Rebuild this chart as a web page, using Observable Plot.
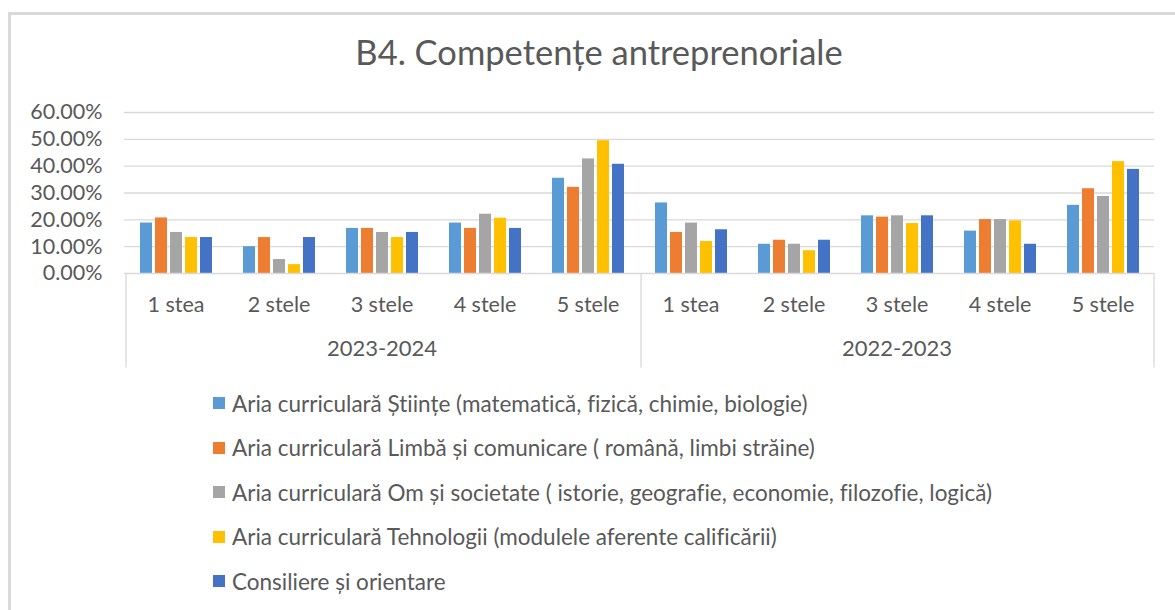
<!DOCTYPE html>
<html>
<head>
<meta charset="utf-8">
<script src="https://cdn.jsdelivr.net/npm/d3@7"></script>
<script src="https://cdn.jsdelivr.net/npm/@observablehq/plot@0.6"></script>
<style>
  html, body { margin: 0; padding: 0; background: #fff; }
  #chart { position: relative; width: 1175px; height: 610px; overflow: hidden; background: #fff; font-family: Lato, "Open Sans", sans-serif; color: #595959; font-variant-ligatures: none; }
  #frame { position: absolute; left: 8px; top: 12px; right: -10px; bottom: -10px; border-left: 3px solid #d9d9d9; border-top: 3px solid #d9d9d9; }
  #title { position: absolute; left: 0; width: 1198px; top: 35px; text-align: center; font-size: 34.5px; line-height: 34.5px; white-space: nowrap; }
  #plot { position: absolute; left: 0; top: 80px; }
  #plot svg text { font-variant-ligatures: none; }
  #legend { position: absolute; left: 213px; top: 381px; }
  .item { height: 44.5px; display: flex; align-items: center; font-size: 22.5px; white-space: nowrap; }
  .sw { width: 12px; height: 12px; margin-right: 7px; flex: none; }
</style>
</head>
<body>
<div id="chart">
  <div id="frame"></div>
  <div id="title"></div>
  <div id="plot"></div>
  <div id="legend"></div>
</div>
<script>
const title = "B4. Competențe antreprenoriale";
const years = ["2023-2024", "2022-2023"];
const stars = ["1 stea", "2 stele", "3 stele", "4 stele", "5 stele"];
const series = [
  "Aria curriculară Științe (matematică, fizică, chimie, biologie)",
  "Aria curriculară Limbă și comunicare ( română, limbi străine)",
  "Aria curriculară Om și societate ( istorie, geografie, economie, filozofie, logică)",
  "Aria curriculară Tehnologii (modulele aferente calificării)",
  "Consiliere și orientare"
];
const colors = ["#5b9bd5", "#ed7d31", "#a5a5a5", "#ffc000", "#4472c4"];

// percentages, one row per series, one column per star category
const values2023_2024 = [
  [18.8, 10.0, 16.8, 18.8, 35.5],
  [20.7, 13.4, 16.8, 16.8, 32.1],
  [15.3, 5.2, 15.3, 22.1, 42.7],
  [13.4, 3.3, 13.4, 20.6, 49.5],
  [13.4, 13.4, 15.3, 16.8, 40.7]
];
const values2022_2023 = [
  [26.3, 10.9, 21.5, 15.8, 25.4],
  [15.3, 12.4, 21.0, 20.1, 31.6],
  [18.8, 10.9, 21.5, 20.1, 28.7],
  [11.9, 8.5, 18.6, 19.6, 41.7],
  [16.3, 12.4, 21.5, 10.9, 38.8]
];
const yTicks = [0, 0.1, 0.2, 0.3, 0.4, 0.5, 0.6];

const valuesByYear = [values2023_2024, values2022_2023];
const key = (yr, st) => yr + "|" + st;
const cats = years.flatMap(yr => stars.map(st => key(yr, st)));
const rows = [];
years.forEach((yr, yi) => series.forEach((se, si) => stars.forEach((st, ci) => {
  rows.push({cat: key(yr, st), series: se, value: valuesByYear[yi][si][ci] / 100});
})));

// layout
const W = 1175, H = 300, ML = 120, MR = 17, MT = 32, MB = 107;
const padIn = 0.2, padOut = 0.9;
const facetW = (W - ML - MR) / cats.length;
const step = facetW / (series.length - padIn + 2 * padOut);
const edge = padOut * step + step * (1 - padIn) / 2;

const dividersLeft = years.map(yr => key(yr, stars[0]));
const dividersRight = [key(years[years.length - 1], stars[stars.length - 1])];
const lineColor = "#d9d9d9";

document.getElementById("title").textContent = title;

const plot = Plot.plot({
  width: W, height: H,
  marginLeft: ML, marginRight: MR, marginTop: MT, marginBottom: MB,
  style: {fontFamily: "Lato, 'Open Sans', sans-serif", fontSize: "21.5px", color: "#595959", background: "transparent", overflow: "visible"},
  fx: {domain: cats, padding: 0, axis: "bottom", tickFormat: k => k.split("|")[1], tickSize: 0, tickPadding: 23, label: null},
  x: {domain: series, paddingInner: padIn, paddingOuter: padOut, axis: null},
  y: {domain: [0, 0.6], ticks: 6, tickFormat: d3.format(".2%"), tickSize: 0, tickPadding: 22, label: null},
  color: {domain: series, range: colors},
  marks: [
    Plot.ruleY(yTicks.slice(1), {stroke: lineColor, strokeWidth: 1.3}),
    Plot.barY(rows, {fx: "cat", x: "series", y: "value", fill: "series"}),
    Plot.ruleY([0], {stroke: lineColor, strokeWidth: 1.3}),
    Plot.ruleX(dividersLeft, {fx: d => d, x: () => series[0], y1: 0, y2: -0.352, dx: -edge, stroke: lineColor, strokeWidth: 1.3}),
    Plot.ruleX(dividersRight, {fx: d => d, x: () => series[series.length - 1], y1: 0, y2: -0.352, dx: edge, stroke: lineColor, strokeWidth: 1.3}),
    Plot.text(years, {fx: yr => key(yr, stars[2]), text: d => d, frameAnchor: "bottom", dy: 82, fill: "#595959", fontSize: 22})
  ]
});
document.getElementById("plot").appendChild(plot);

const legend = document.getElementById("legend");
series.forEach((se, i) => {
  const item = document.createElement("div");
  item.className = "item";
  const sw = document.createElement("span");
  sw.className = "sw";
  sw.style.background = colors[i];
  const label = document.createElement("span");
  label.textContent = se;
  item.appendChild(sw);
  item.appendChild(label);
  legend.appendChild(item);
});
</script>
</body>
</html>
